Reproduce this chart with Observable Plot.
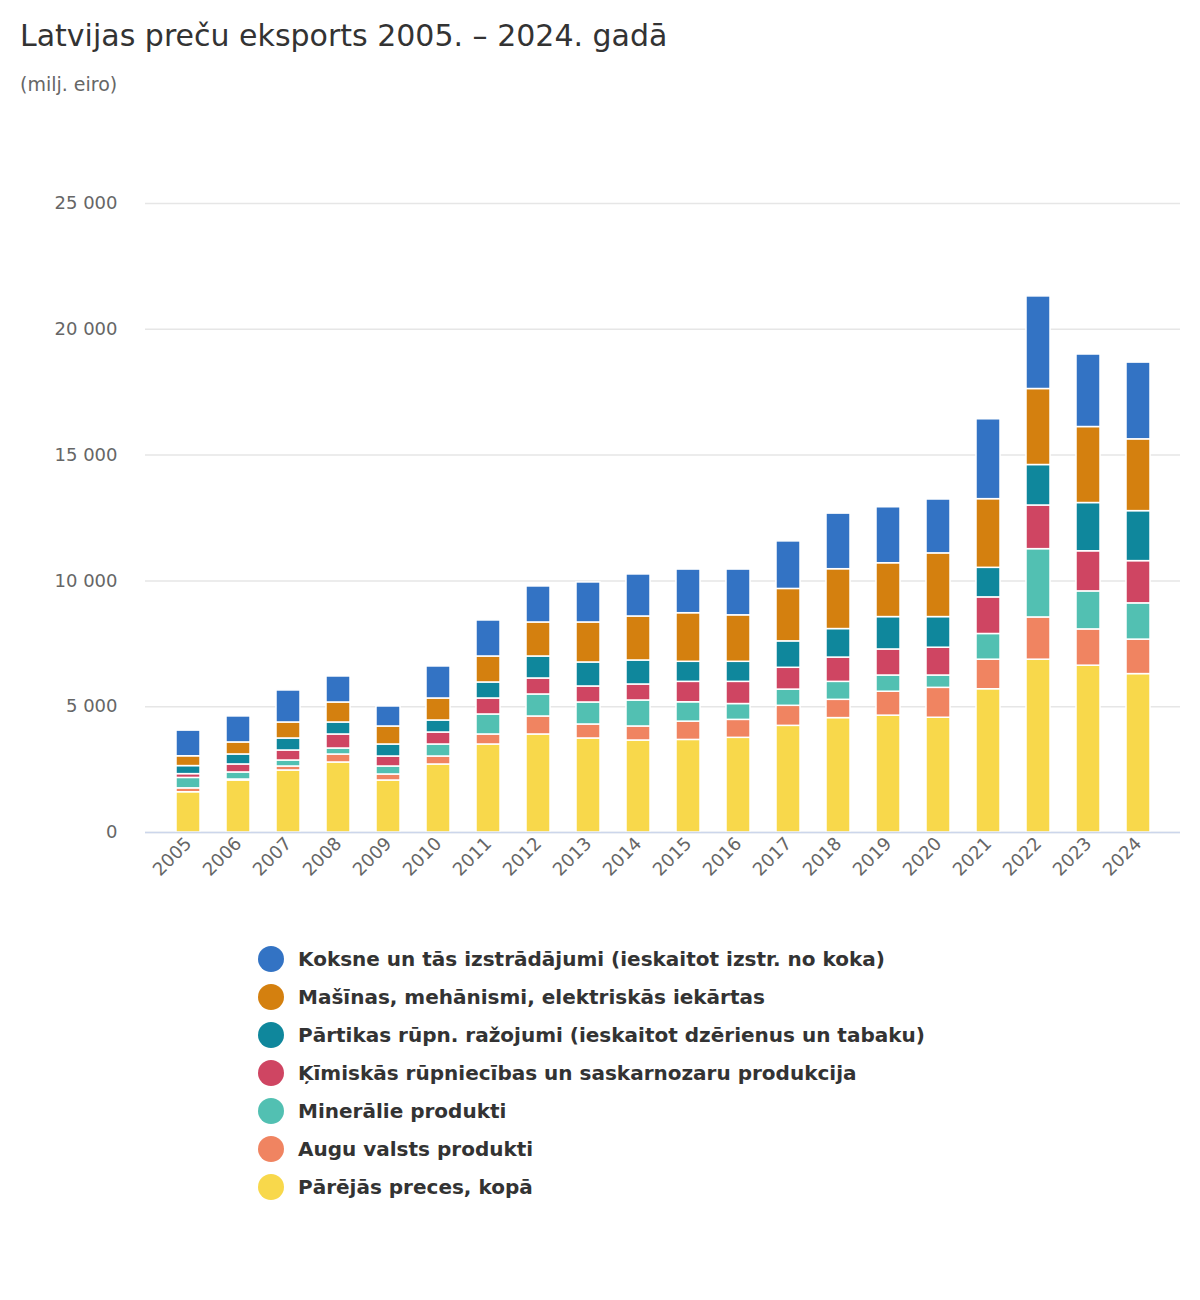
<!DOCTYPE html>
<html><head><meta charset="utf-8">
<script src="https://cdn.jsdelivr.net/npm/d3@7"></script>
<script src="https://cdn.jsdelivr.net/npm/@observablehq/plot@0.6"></script>
<style>
body{margin:0;background:#fff;font-family:"DejaVu Sans",sans-serif;}
#title{position:absolute;left:20px;top:18px;font-size:30px;color:#333;}
#sub{position:absolute;left:20px;top:73px;font-size:19px;color:#666;}
#chart{position:absolute;left:0;top:120px;}
#legend{position:absolute;left:258px;top:940px;}
.li{display:flex;align-items:center;height:38px;font-size:20px;font-weight:bold;color:#333;}
.dot{width:26px;height:26px;border-radius:50%;margin-right:14px;}
</style></head><body>
<div id="title">Latvijas preču eksports 2005. – 2024. gadā</div>
<div id="sub">(milj. eiro)</div>
<div id="chart"></div>
<div id="legend"></div>
<script>
const years = [2005,2006,2007,2008,2009,2010,2011,2012,2013,2014,2015,2016,2017,2018,2019,2020,2021,2022,2023,2024];
const other   = [1600,2067,2465,2783,2067,2703,3498,3896,3737,3657,3680,3763,4239,4547,4645,4561,5694,6869,6631,6296];
const plant   = [155,40,159,317,239,318,398,715,556,557,727,714,797,727,951,1189,1175,1679,1441,1371];
const mineral = [415,280,238,239,318,477,795,875,875,1033,769,629,644,714,644,490,1021,2714,1511,1440];
const chem    = [150,318,398,557,397,477,636,636,636,636,812,882,867,965,1035,1105,1455,1735,1595,1679];
const food    = [320,397,477,477,477,477,636,874,954,954,797,797,1050,1133,1287,1217,1175,1609,1917,1987];
const machine = [390,478,636,795,716,875,1033,1352,1590,1749,1931,1847,2084,2379,2140,2532,2729,3021,3021,2854];
const wood    = [1020,1033,1272,1033,795,1272,1431,1431,1590,1670,1735,1819,1889,2210,2225,2141,3175,3680,2882,3050];
const seriesNames = ["Koksne un tās izstrādājumi (ieskaitot izstr. no koka)","Mašīnas, mehānismi, elektriskās iekārtas","Pārtikas rūpn. ražojumi (ieskaitot dzērienus un tabaku)","Ķīmiskās rūpniecības un saskarnozaru produkcija","Minerālie produkti","Augu valsts produkti","Pārējās preces, kopā"];
const seriesValues = [wood,machine,food,chem,mineral,plant,other];
const colors = ["#3373c4","#d4800f","#0f879c","#cf4562","#52c0b2","#f08461","#f8d84b"];
const yTicks = [0,5000,10000,15000,20000,25000];

const stackOrder = [6,5,4,3,2,1,0];
const rows = [];
years.forEach((y,i)=>stackOrder.forEach(s=>rows.push({year:String(y),series:seriesNames[s],value:seriesValues[s][i],order:6-s})));

const fmt = d=>d3.format(",")(d).replace(/,/g," ");
const plot = Plot.plot({
  width:1200,height:800,marginTop:83,marginBottom:88,marginLeft:145,marginRight:20,
  style:{fontFamily:"DejaVu Sans",fontSize:"18px",color:"#666"},
  x:{domain:years.map(String),padding:0.53,label:null,tickRotate:-45,tickSize:0,tickPadding:8},
  y:{domain:[0,25000],ticks:yTicks,tickFormat:fmt,label:null,tickSize:0,tickPadding:28},
  color:{domain:seriesNames,range:colors},
  marks:[
    Plot.gridY(yTicks,{stroke:"#e6e6e6",strokeOpacity:1,strokeWidth:1.5}),
    Plot.barY(rows,Plot.stackY({x:"year",y:"value",fill:"series",order:"order",stroke:"white",strokeWidth:1.5})),
    Plot.ruleY([0],{stroke:"#ccd6eb",strokeWidth:1.5})
  ]
});
document.getElementById("chart").appendChild(plot);
const lg=document.getElementById("legend");
seriesNames.forEach((n,i)=>{const d=document.createElement("div");d.className="li";d.innerHTML=`<span class="dot" style="background:${colors[i]}"></span>${n}`;lg.appendChild(d);});
</script></body></html>
